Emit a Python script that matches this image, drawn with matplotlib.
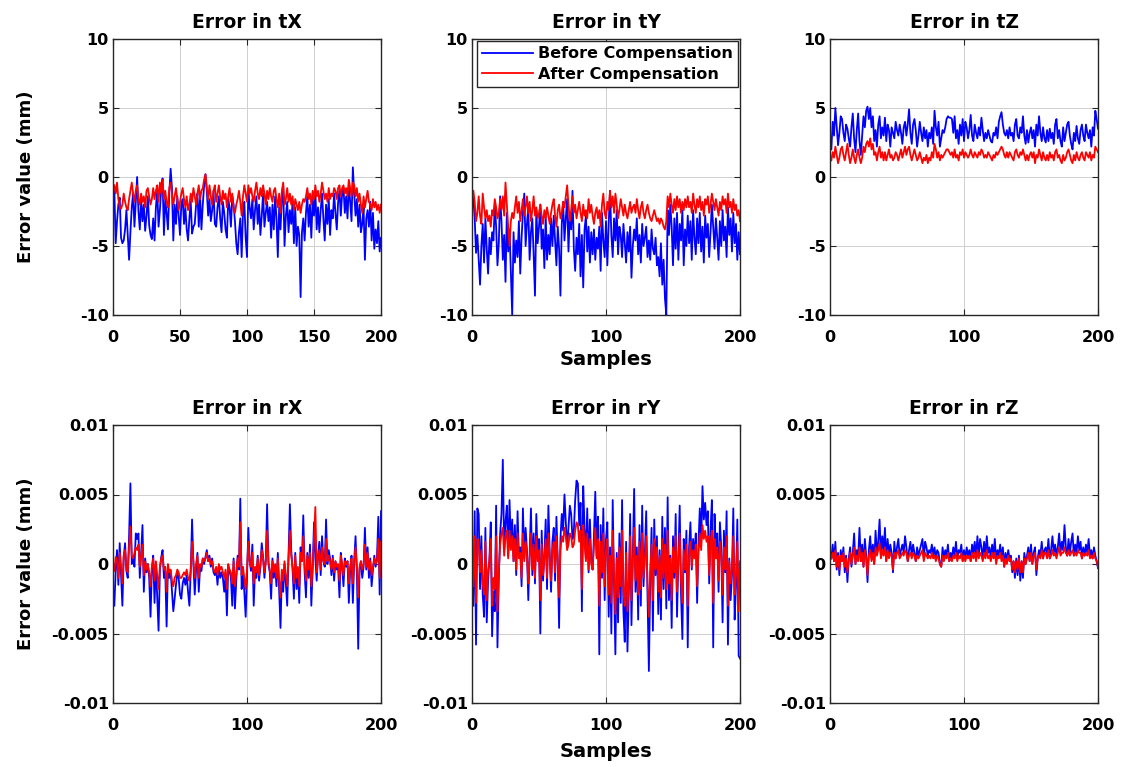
import matplotlib
matplotlib.use("Agg")
import matplotlib.pyplot as plt
import numpy as np

plt.rcParams["font.family"] = "DejaVu Sans"
plt.rcParams["font.weight"] = "bold"
plt.rcParams["axes.titleweight"] = "bold"
plt.rcParams["axes.labelweight"] = "bold"

samples = np.arange(1, 201)

# ---- translation errors (mm) ----
tx_before = [
    -1.0, -4.8, -3.2, -2.0, -1.5, -4.4, -4.8, -4.6, -3.8, -2.4, -4.2, -6.0, -4.0, -2.2, -1.2, -3.6, -1.8, 0.0, -2.5, -3.8,
    -1.6, -3.2, -2.0, -3.9, -2.8, -1.4, -3.5, -4.2, -4.5, -3.0, -4.6, -2.2, -1.0, -3.6, -2.4, -0.8, -0.1, -4.2, -1.6, -2.6,
    -3.8, -1.2, 0.6, -0.8, -4.6, -2.0, -3.4, -1.4, -2.8, -4.2, -2.0, -1.6, -3.4, -2.2, -3.8, -4.6, -3.0, -1.8, -4.1, -3.6,
    -3.4, -2.0, -1.2, -3.6, -1.4, -3.8, -2.0, -0.6, 0.2, -1.0, -2.8, -1.6, -3.2, -2.4, -1.0, -3.4, -3.6, -2.2, -1.4, -3.0,
    -4.0, -1.8, -2.6, -3.8, -4.4, -1.6, -2.2, -3.6, -1.4, -2.0, -3.2, -4.8, -5.6, -4.0, -3.0, -5.8, -2.6, -1.8, -4.4, -5.8,
    -1.0, -2.2, -3.0, -1.6, -3.8, -2.4, -1.4, -3.4, -2.0, -4.2, -2.8, -1.2, -3.6, -2.6, -1.8, -3.2, -2.2, -4.4, -2.0, -3.8,
    -1.4, -3.0, -5.8, -2.2, -3.8, -1.6, -0.6, -5.0, -2.8, -1.8, -4.0, -2.4, -3.4, -1.8, -4.8, -2.2, -5.0, -3.6, -4.2, -8.7,
    -4.0, -3.0, -4.6, -2.6, -1.4, -3.6, -2.0, -4.4, -1.6, -2.8, -1.0, -3.8, -2.2, -4.0, -2.4, -1.2, -3.0, -4.6, -2.0, -3.4,
    -1.6, -4.2, -2.4, -3.0, -1.2, -2.6, -3.8, -1.8, -1.0, -2.8, -1.2, -0.8, -2.6, -1.4, -3.0, -0.6, -1.8, -3.2, 0.7, -1.2,
    -2.8, -1.6, -3.6, -2.0, -4.0, -3.4, -2.2, -6.0, -3.0, -2.4, -3.6, -1.8, -4.6, -2.6, -5.2, -3.8, -4.8, -3.2, -5.4, -4.4,
]
tx_after = [
    -0.6, -1.2, -0.4, -1.6, -2.2, -2.3, -2.0, -1.2, -1.8, -2.2, -2.4, -1.6, -1.0, -0.4, -1.2, -1.8, -1.0, -0.6, -1.6, -2.0,
    -1.2, -1.8, -1.4, -2.2, -1.0, -0.8, -1.4, -2.0, -1.6, -0.8, -1.6, -1.0, -0.6, -1.8, -0.4, -1.2, -0.2, -1.6, -1.0, -1.8,
    -2.2, -0.8, -0.4, -1.2, -2.0, -1.4, -0.8, -1.6, -2.4, -1.8, -1.2, -0.8, -1.6, -2.2, -1.4, -2.4, -2.0, -1.2, -1.8, -0.8,
    -1.4, -2.0, -1.2, -0.6, -1.6, -1.0, -0.8, -0.2, 0.2, -0.8, -1.6, -0.6, -1.4, -2.0, -1.0, -0.6, -1.8, -1.2, -0.6, -1.4,
    -2.0, -1.0, -1.6, -1.2, -2.2, -1.4, -0.8, -1.8, -1.2, -2.4, -2.6, -2.0, -1.6, -1.0, -1.8, -2.8, -1.4, -0.6, -1.2, -1.8,
    -0.6, -1.2, -0.8, -1.4, -1.8, -1.0, -0.4, -1.2, -1.6, -0.8, -1.4, -0.6, -1.2, -2.0, -1.0, -1.6, -0.8, -1.4, -1.8, -1.0,
    -0.8, -1.6, -2.2, -1.2, -2.6, -1.0, -0.4, -2.0, -1.6, -0.8, -1.8, -1.2, -2.0, -1.4, -2.4, -1.6, -2.0, -2.4, -1.8, -2.6,
    -2.0, -1.6, -1.8, -1.4, -0.8, -1.6, -1.2, -2.0, -1.0, -1.6, -0.6, -1.4, -1.0, -1.8, -1.2, -0.4, -1.0, -1.6, -1.2, -1.8,
    -0.8, -1.6, -1.2, -1.4, -0.8, -1.0, -1.6, -0.8, -0.6, -1.4, -0.8, -0.6, -1.2, -0.8, -1.4, -0.2, -0.8, -1.4, -0.4, -0.6,
    -1.4, -0.8, -1.8, -1.2, -2.0, -2.6, -1.4, -2.2, -1.6, -1.0, -1.8, -2.0, -2.4, -1.6, -2.2, -1.8, -2.4, -2.0, -2.6, -2.0,
]
ty_before = [
    -1.5, -3.0, -5.5, -4.2, -6.0, -7.8, -5.0, -3.4, -6.2, -3.0, -5.2, -7.0, -4.4, -5.6, -4.0, -4.6, -2.0, -3.6, -6.4, -4.8,
    -1.4, -3.2, -6.0, -4.2, -7.6, -2.6, -5.4, -3.8, -6.8, -10.0, -4.0, -6.2, -4.6, -5.8, -3.2, -7.0, -4.4, -2.6, -1.2, -5.0,
    -3.4, -2.2, -6.0, -4.0, -3.0, -5.6, -8.6, -2.4, -4.8, -3.6, -2.0, -5.2, -3.8, -6.6, -2.8, -6.0, -4.2, -5.6, -3.0, -5.0,
    -2.8, -4.6, -6.4, -3.6, -5.2, -8.6, -3.4, -1.8, -4.6, -3.0, -1.6, -5.4, -2.6, -3.8, -1.0, -5.2, -6.8, -4.4, -5.6, -3.4,
    -7.2, -4.2, -8.0, -3.8, -2.8, -5.4, -3.6, -6.2, -4.0, -5.6, -3.8, -6.0, -4.4, -5.2, -3.6, -6.8, -2.6, -4.6, -5.8, -3.2,
    -6.4, -3.4, -1.0, -4.2, -5.8, -3.0, -4.6, -2.4, -5.6, -3.6, -4.2, -5.8, -3.4, -4.8, -6.2, -4.0, -5.4, -3.6, -7.3, -5.0,
    -3.8, -4.6, -3.0, -5.6, -4.2, -6.2, -3.4, -5.0, -4.4, -3.6, -5.8, -4.6, -6.0, -3.8, -5.2, -5.6, -4.4, -6.4, -5.8, -7.2,
    -4.8, -7.8, -6.0, -8.8, -10.0, -2.4, -4.2, -2.0, -3.6, -6.4, -3.0, -5.2, -2.6, -6.0, -3.4, -4.6, -2.4, -6.4, -3.8, -5.0,
    -2.8, -4.8, -3.2, -6.0, -2.4, -4.4, -5.6, -3.0, -4.8, -2.6, -5.4, -3.6, -6.2, -2.8, -4.4, -3.4, -5.8, -4.0, -2.0, -3.6,
    -5.2, -3.0, -4.4, -6.0, -3.2, -5.0, -2.4, -4.6, -3.6, -5.8, -2.2, -4.2, -3.0, -5.4, -2.6, -4.8, -3.4, -6.0, -4.0, -5.6,
]
ty_after = [
    -1.0, -1.8, -3.2, -2.6, -1.4, -2.8, -3.4, -1.2, -2.2, -3.0, -2.4, -3.2, -2.8, -3.6, -2.4, -2.8, -1.6, -2.2, -3.0, -2.6,
    -1.6, -2.4, -1.4, -2.8, -0.4, -2.0, -3.6, -5.0, -3.2, -2.6, -3.0, -2.2, -1.4, -2.6, -1.8, -3.2, -2.4, -1.6, -2.8, -2.2,
    -1.4, -2.6, -1.8, -3.2, -2.4, -1.4, -2.8, -2.2, -3.0, -2.6, -2.0, -2.8, -3.4, -2.4, -3.0, -2.2, -2.8, -3.4, -2.6, -2.0,
    -1.6, -2.8, -3.6, -2.4, -2.0, -3.0, -2.6, -1.8, -2.2, -1.4, -0.6, -2.0, -3.2, -2.4, -1.4, -2.6, -2.0, -3.0, -2.4, -1.8,
    -2.6, -3.2, -2.0, -2.8, -2.4, -3.0, -1.6, -2.6, -2.0, -2.8, -3.4, -2.6, -2.2, -3.0, -2.4, -3.6, -2.0, -1.2, -2.6, -3.0,
    -1.8, -2.4, -1.0, -2.2, -1.4, -2.6, -1.2, -2.0, -3.0, -2.4, -1.6, -2.2, -2.8, -2.0, -2.6, -3.0, -2.4, -1.8, -2.6, -2.2,
    -2.0, -2.6, -1.6, -2.4, -3.0, -2.2, -1.8, -2.6, -3.0, -2.4, -2.0, -2.6, -3.0, -3.2, -2.8, -2.4, -2.8, -3.2, -3.0, -3.4,
    -3.0, -3.2, -3.6, -3.8, -3.2, -1.4, -2.2, -1.2, -2.0, -2.6, -1.6, -2.4, -1.4, -2.2, -1.6, -2.6, -1.8, -2.4, -1.6, -2.2,
    -1.4, -2.2, -1.8, -2.6, -1.2, -2.0, -2.6, -1.6, -2.2, -1.4, -2.4, -1.8, -2.8, -1.6, -2.0, -1.4, -2.6, -2.0, -1.2, -1.8,
    -2.4, -1.6, -2.2, -2.8, -1.8, -2.4, -1.4, -2.0, -1.6, -2.6, -1.2, -2.2, -1.8, -2.6, -1.6, -2.4, -2.0, -2.8, -2.4, -3.2,
]
tz_before = [
    2.0, 4.0, 3.0, 5.0, 3.6, 2.3, 3.2, 4.4, 4.2, 3.2, 2.6, 3.8, 3.5, 2.8, 2.2, 3.6, 4.6, 2.8, 1.8, 3.4,
    4.6, 2.6, 1.6, 3.0, 4.4, 3.6, 4.8, 5.1, 4.2, 5.0, 3.6, 4.4, 2.6, 3.4, 2.2, 3.8, 4.4, 2.8, 3.6, 3.0,
    4.3, 2.6, 3.8, 3.4, 2.2, 3.6, 3.2, 2.8, 4.0, 3.4, 3.0, 3.8, 3.2, 2.4, 3.6, 4.0, 3.0, 3.8, 4.9, 3.2,
    2.4, 3.8, 4.2, 3.4, 2.2, 3.0, 4.0, 3.2, 2.6, 3.6, 2.8, 3.4, 2.2, 3.2, 2.8, 3.6, 2.4, 4.8, 3.6, 3.0,
    4.0, 2.2, 2.8, 3.4, 3.2, 3.6, 4.2, 4.4, 4.3, 4.3, 4.2, 3.2, 4.4, 2.8, 3.4, 2.4, 3.8, 3.0, 4.2, 2.6,
    4.0, 3.6, 2.8, 3.4, 4.5, 3.0, 2.6, 3.8, 3.2, 2.8, 3.6, 3.0, 4.3, 3.4, 2.6, 3.2, 2.8, 3.4, 3.0, 2.6,
    2.5, 3.2, 3.0, 3.6, 2.8, 4.0, 4.4, 4.7, 3.8, 3.2, 3.0, 3.4, 2.8, 3.6, 3.0, 3.2, 2.6, 3.8, 4.2, 3.0,
    2.8, 3.6, 3.2, 4.4, 3.0, 2.4, 3.4, 2.5, 3.2, 3.6, 2.8, 3.4, 2.2, 3.8, 3.0, 4.4, 3.2, 2.6, 3.6, 2.8,
    2.5, 3.4, 2.6, 3.5, 2.8, 3.2, 2.4, 3.8, 4.2, 2.8, 3.4, 2.6, 2.2, 3.6, 2.6, 3.2, 3.8, 4.0, 3.0, 2.4,
    2.0, 3.2, 2.6, 3.7, 2.8, 2.4, 3.4, 3.8, 3.0, 2.6, 3.8, 3.2, 2.8, 3.4, 2.2, 3.6, 3.0, 4.8, 4.2, 3.5,
]
tz_after = [
    1.2, 1.8, 1.4, 2.2, 1.6, 1.0, 1.4, 2.0, 2.2, 1.6, 1.2, 1.8, 2.4, 1.6, 1.0, 1.4, 2.0, 1.4, 1.0, 1.6,
    2.0, 1.4, 1.0, 1.4, 2.2, 1.8, 2.4, 2.6, 2.2, 2.8, 2.0, 2.4, 1.6, 1.8, 1.2, 1.8, 2.2, 1.4, 1.8, 1.2,
    1.8, 1.2, 1.6, 2.0, 1.4, 1.6, 1.2, 1.4, 1.8, 1.6, 1.2, 1.6, 2.0, 1.4, 1.8, 2.2, 1.6, 2.0, 2.2, 1.6,
    1.2, 1.6, 2.0, 1.6, 1.2, 1.4, 1.8, 1.4, 1.0, 1.4, 1.2, 1.6, 1.0, 1.4, 1.2, 1.8, 1.4, 2.4, 2.0, 1.4,
    1.8, 1.2, 1.6, 1.4, 1.6, 1.8, 2.0, 2.0, 1.8, 1.6, 1.8, 1.4, 2.0, 1.4, 1.6, 1.2, 1.8, 1.6, 2.0, 1.4,
    1.8, 1.6, 1.4, 1.6, 2.0, 1.6, 1.4, 1.8, 1.6, 1.4, 1.8, 1.6, 2.0, 1.8, 1.4, 1.6, 1.4, 1.8, 1.6, 1.4,
    1.2, 1.6, 1.4, 1.8, 1.6, 1.8, 2.0, 2.2, 2.0, 1.6, 1.4, 1.8, 1.4, 1.8, 1.6, 1.4, 1.2, 1.8, 2.0, 1.6,
    1.4, 1.8, 1.6, 2.0, 1.6, 1.2, 1.6, 1.2, 1.6, 1.8, 1.4, 1.8, 1.0, 1.6, 1.4, 2.0, 1.6, 1.2, 1.8, 1.4,
    1.2, 1.6, 1.2, 1.8, 1.4, 1.6, 1.2, 1.8, 2.0, 1.4, 1.6, 1.2, 1.0, 1.6, 1.2, 1.4, 1.8, 2.0, 1.6, 1.2,
    1.0, 1.6, 1.2, 1.8, 1.4, 1.2, 1.6, 1.8, 1.4, 1.2, 1.8, 1.6, 1.4, 1.8, 1.2, 1.6, 1.4, 2.2, 2.0, 1.8,
]

# ---- rotation errors, written in units of 1e-3 ----
rx_before = [
    -3.0, -0.5, 1.0, -1.5, 1.5, -0.8, -3.0, 0.5, 1.5, -0.5, -1.0, 2.0, 5.8, 0.0, 0.5, -0.2, 2.2, 1.8, 2.2, -1.0,
    0.8, 2.8, -2.0, 0.4, -0.6, 0.0, -1.0, -3.8, -0.5, 0.6, -2.8, 0.0, -2.5, -4.8, -0.4, 0.5, 1.0, -1.0, -0.5, -4.5,
    -0.2, -1.0, -0.5, -2.0, -3.4, -2.5, -1.5, -0.6, -1.0, -2.2, -2.5, -1.4, -1.0, -1.5, -0.8, -2.0, -3.0, -0.6, 3.2, 0.0,
    -2.2, -0.4, 0.8, -2.0, -0.2, -0.5, 0.4, 0.0, 0.5, 1.0, 0.2, 0.6, -0.2, 0.4, -0.6, -0.8, -0.4, -1.5, -0.2, -1.0,
    -0.6, -1.0, -2.0, -0.8, -3.7, -0.2, -0.5, -1.0, -3.0, 0.4, -3.2, -1.2, 0.6, -0.4, 4.7, -1.8, -0.6, -2.0, -3.8, -1.0,
    2.6, 0.2, -0.5, 1.4, -3.0, -0.4, -1.0, 0.6, -1.2, -0.2, 1.5, 0.5, -1.0, 0.2, 4.3, 0.0, -0.6, -2.5, 0.4, -1.0,
    -0.2, -1.6, 0.8, -2.0, -4.6, -0.8, -2.0, 0.0, -1.4, -3.0, 0.6, 4.3, 1.0, -0.4, -2.5, 0.8, -1.8, -0.4, -2.8, 1.2,
    0.2, 3.5, -0.6, -2.4, 0.8, -1.0, 1.4, -3.0, -0.4, 3.0, 0.4, -1.2, 0.6, 1.6, -0.8, 2.0, 0.2, -0.2, 3.2, 0.0,
    1.0, 0.4, -0.8, 0.6, -1.2, 0.2, -0.4, -0.2, -2.4, 0.8, -0.2, -1.6, 0.4, -0.2, 0.2, -2.8, -0.4, 0.6, -2.8, 0.2,
    2.0, -0.6, -6.1, -0.4, 0.2, -1.0, -0.2, 2.6, -0.4, 1.2, -1.0, 0.4, -1.6, -0.4, 0.6, -0.2, 0.4, 3.4, -2.2, 3.8,
]
rx_after = [
    -0.5, 0.5, 0.2, -1.0, 0.8, -0.2, -1.4, 0.6, 1.0, -0.4, -0.6, 1.2, 2.7, 0.6, 0.4, 0.8, 1.2, 1.0, 1.4, -0.2,
    0.6, 1.4, -0.8, 0.2, -0.4, 0.0, -0.6, -1.6, -0.2, 0.4, -1.2, 0.2, -0.8, -1.8, -0.2, 0.4, 0.6, -0.4, -0.2, -2.0,
    0.0, -0.6, -0.4, -1.2, -1.6, -1.0, -0.8, -0.4, -0.6, -1.0, -1.0, -0.8, -0.6, -0.8, -0.4, -1.0, -1.2, -0.4, 1.6, 0.2,
    -1.0, 0.0, 0.6, -1.0, 0.0, -0.2, 0.4, 0.2, 0.4, 0.8, 0.2, 0.4, 0.0, 0.2, -0.4, -0.6, -0.2, -0.8, 0.0, -0.4,
    -0.2, -0.6, -1.0, -0.4, -1.8, 0.0, -0.4, -0.6, -1.4, 0.2, -1.6, -0.6, 0.4, -0.2, 3.0, -0.8, -0.2, -1.0, -1.8, -0.4,
    1.6, 0.2, -0.2, 0.8, -1.4, -0.2, -0.6, 0.4, -0.8, 0.0, 1.0, 0.4, -0.6, 0.2, 2.4, 0.2, -0.4, -1.4, 0.2, -0.6,
    0.0, -1.0, 0.4, -1.2, -2.4, -0.4, -1.2, 0.2, -0.8, -1.6, 0.4, 2.4, 0.6, -0.2, -1.4, 0.6, -1.0, -0.2, -1.6, 0.8,
    0.2, 2.0, -0.2, -1.2, 0.6, -0.4, 0.8, -1.6, -0.2, 1.8, 4.1, -0.6, 0.4, 1.0, -0.4, 1.2, 0.2, 0.0, 1.8, 0.2,
    0.6, 0.2, -0.4, 0.4, -0.6, 0.2, -0.2, 0.0, -1.2, 0.6, 0.0, -0.8, 0.2, 0.0, 0.2, -1.4, -0.2, 0.4, -1.4, 0.2,
    1.2, -0.2, -2.4, -0.2, 0.2, -0.4, 0.0, 1.4, -0.2, 0.8, -0.4, 0.2, -0.8, -0.2, 0.4, 0.0, 0.2, 1.8, -1.0, 1.6,
]
ry_before = [
    -3.0, 3.8, -5.8, 4.0, 3.6, -1.8, 2.0, -2.2, -3.8, 2.6, -4.2, -1.2, 0.4, 3.0, -5.2, -2.0, -3.4, 4.2, -6.0, -1.0,
    2.2, 3.6, 7.5, 1.0, 3.0, 4.2, 0.6, 4.6, 1.4, 3.2, 0.2, 2.8, -0.8, 3.8, 0.6, 1.2, -1.6, 4.0, 0.4, 2.6,
    1.0, -2.6, 0.8, 4.0, -0.8, 2.2, -1.4, 3.6, 0.4, 1.8, -5.0, 2.4, -1.2, 0.6, 3.2, -1.8, 4.2, 0.8, -2.0, 1.6,
    2.6, -1.2, 3.4, 0.2, -4.6, 1.8, 3.6, 2.4, 5.0, 3.0, 1.2, 2.6, 4.2, 3.6, 1.8, 2.4, 4.6, 6.0, 5.8, 2.8,
    4.4, -3.4, 5.6, 2.6, 0.4, 4.0, -0.6, 3.2, 0.2, -0.4, 2.0, 5.2, 0.6, 3.4, -6.5, 2.8, -1.0, 4.0, -2.6, 1.8,
    3.0, -3.8, 1.2, -5.0, 4.6, -1.4, -6.5, 0.8, -4.2, 2.2, -2.8, 4.6, -3.4, -5.6, 1.6, -6.3, -2.2, 3.6, -4.4, 0.4,
    5.4, -2.0, 1.2, -4.0, 2.8, -3.0, 4.2, -1.6, 0.8, 3.8, -2.4, -7.7, -1.2, 2.6, -4.8, 3.2, -0.8, 2.0, -3.6, 1.0,
    -4.0, 3.4, -1.8, 2.6, -3.2, 4.8, -2.6, 0.6, -4.6, 2.0, -1.0, 3.6, -3.8, 0.4, 4.2, -2.2, -5.4, 1.8, -0.6, 2.4,
    -6.0, 1.2, 3.0, -0.4, 1.8, 0.6, 2.2, -2.8, 1.4, 4.0, 1.6, 5.6, 3.2, 4.4, 2.8, 3.8, -1.4, 2.4, 4.6, -6.0,
    3.6, 0.8, 2.2, -2.0, 3.0, 1.2, -4.2, 2.4, -0.6, 3.8, -5.8, 0.4, -2.6, -0.8, 4.0, -4.0, -1.6, 3.2, -6.6, -6.8,
]
ry_after = [
    -1.6, 2.0, -2.8, 1.8, 1.6, -0.6, 1.0, -1.4, -2.2, 1.6, -2.6, -0.4, 0.2, 1.8, -3.0, -1.0, -1.8, 2.0, -3.4, -0.6,
    1.4, 2.2, 2.6, 0.6, 2.0, 2.4, 0.4, 2.4, 1.0, 2.0, 0.2, 1.8, -0.4, 2.2, 0.4, 0.8, -1.0, 2.2, 0.2, 1.6,
    0.6, -1.4, 0.4, 2.2, -0.4, 1.4, -1.0, 2.0, 0.2, 1.0, -2.6, 1.4, -0.8, 0.4, 1.8, -1.0, 2.2, 0.4, -1.2, 1.0,
    1.6, -0.6, 2.0, 0.2, -2.4, 1.0, 2.0, 1.6, 2.6, 2.0, 1.0, 1.4, 2.2, 2.0, 1.2, 1.4, 2.4, 3.0, 2.8, 1.6,
    2.4, -1.8, 2.8, 1.4, 0.2, 2.2, -0.4, 1.8, 0.0, -0.4, 1.2, 2.6, 0.4, 1.8, -3.0, 1.6, -0.6, 2.2, -1.6, 1.0,
    1.8, -2.2, 0.6, -2.8, 2.4, -0.8, -3.6, 0.4, -2.4, 1.2, -1.6, 2.4, -2.0, -3.0, 0.8, -3.4, -1.2, 2.0, -2.6, 0.2,
    2.6, -1.2, 0.6, -2.2, 1.6, -1.8, 2.2, -1.0, 0.4, 2.0, -1.4, -3.8, -0.6, 1.4, -2.6, 1.8, -0.4, 1.2, -2.0, 0.6,
    -2.4, 1.8, -1.0, 1.4, -1.8, 2.4, -1.4, 0.4, -2.6, 1.2, -0.6, 2.0, -2.0, 0.2, 2.2, -1.2, -2.8, 1.0, -0.4, 1.4,
    -3.0, 0.6, 1.6, -0.2, 1.0, 0.4, 1.4, -1.6, 0.8, 2.2, 1.0, 2.8, 1.8, 2.4, 1.6, 2.0, -0.8, 1.4, 2.4, -2.8,
    1.8, 0.4, 1.2, -1.2, 1.6, 0.6, -2.2, 1.2, -0.4, 2.0, -3.0, 0.2, -1.4, -0.4, 2.0, -2.2, -0.8, 1.6, -3.4, 0.2,
]
rz_before = [
    0.4, 1.4, 0.2, 1.6, -0.4, 0.8, -0.8, 1.0, 0.2, 1.2, -0.6, 0.6, -1.3, 0.4, 1.2, -0.2, 0.8, 2.2, 0.0, 1.0,
    0.4, 2.6, 0.2, 1.4, -0.2, 1.8, 0.6, -1.3, 1.0, 2.0, 0.4, 1.4, 0.0, 2.4, 0.8, 1.6, 3.2, 0.6, 2.0, 1.0,
    2.6, 0.2, 1.8, 0.6, 1.4, 0.8, -0.6, 1.6, 0.4, 1.2, 1.8, 0.6, 1.0, 1.4, 0.8, 2.0, 1.2, 0.2, 1.0, 1.6,
    0.6, 1.4, 0.8, 0.2, 1.2, 0.6, 1.0, 1.4, 1.8, 0.4, 1.6, 1.2, 0.6, 1.0, 0.8, 1.4, 0.6, 1.2, 0.4, 1.0,
    0.8, 0.0, -0.2, 1.2, 0.4, 1.0, 0.6, 1.4, 0.2, 0.8, 0.4, 1.2, 0.6, 1.6, 0.4, 1.0, 0.8, 1.4, 0.2, 1.0,
    0.4, 1.2, 0.6, 1.0, 0.2, 1.4, 0.8, 1.6, 0.4, 2.0, 0.6, 1.8, 1.2, 0.4, 1.6, 0.6, 2.0, 0.8, 1.2, 0.4,
    1.4, 0.6, 1.8, 0.2, 1.0, 0.6, 1.4, 0.4, 1.2, -0.2, 0.8, 0.2, 1.0, 0.4, 0.6, -0.6, 0.2, -1.0, 0.4, -0.8,
    0.6, -1.2, 0.2, -1.0, 0.8, 0.0, 0.6, 1.2, 0.2, 1.4, 0.0, 0.8, 1.2, -0.8, 0.4, 1.0, 0.6, 1.6, 0.4, 1.0,
    1.2, 0.6, 1.8, 0.4, 1.0, 2.0, 0.8, 1.4, 0.6, 1.2, 2.2, 0.8, 1.6, 1.0, 2.8, 1.2, 0.6, 1.8, 0.8, 1.6,
    2.2, 0.6, 1.4, 0.8, 2.0, 1.0, 1.6, 0.4, 1.2, 0.6, 1.4, 0.8, 1.8, 0.6, 1.0, 0.4, 1.2, 0.6, 0.2, -0.3,
]
rz_after = [
    0.4, 0.8, 0.2, 1.0, -0.2, 0.6, -0.4, 0.6, 0.2, 0.8, -0.2, 0.4, -0.6, 0.2, 0.8, 0.0, 0.6, 1.2, 0.0, 0.6,
    0.2, 1.2, 0.2, 0.8, -0.2, 1.0, 0.4, -0.8, 0.6, 1.0, 0.2, 0.8, 0.0, 1.2, 0.6, 1.0, 1.5, 0.4, 1.0, 0.6,
    1.2, 0.2, 1.0, 0.4, 0.8, 0.6, -0.4, 0.8, 0.4, 0.8, 1.0, 0.4, 0.6, 0.8, 0.6, 1.0, 0.8, 0.2, 0.6, 0.8,
    0.4, 0.8, 0.6, 0.2, 0.6, 0.4, 0.6, 0.8, 1.0, 0.2, 0.8, 0.6, 0.4, 0.6, 0.4, 0.8, 0.4, 0.6, 0.2, 0.6,
    0.4, 0.0, -0.2, 0.6, 0.2, 0.6, 0.4, 0.8, 0.2, 0.4, 0.2, 0.6, 0.4, 0.8, 0.2, 0.6, 0.4, 0.8, 0.2, 0.6,
    0.2, 0.6, 0.4, 0.6, 0.2, 0.8, 0.4, 0.8, 0.2, 1.0, 0.4, 0.8, 0.6, 0.2, 0.8, 0.4, 1.0, 0.4, 0.6, 0.2,
    0.8, 0.4, 0.8, 0.0, 0.6, 0.4, 0.8, 0.2, 0.6, -0.2, 0.4, 0.0, 0.6, 0.2, 0.4, -0.4, 0.2, -0.6, 0.2, -0.4,
    0.4, -0.6, 0.2, -0.6, 0.4, 0.0, 0.4, 0.8, 0.2, 0.8, 0.0, 0.6, 0.8, -0.4, 0.4, 0.6, 0.4, 1.0, 0.4, 0.8,
    0.8, 0.4, 1.0, 0.4, 0.6, 1.0, 0.6, 0.8, 0.4, 0.8, 1.2, 0.6, 0.8, 0.8, 1.2, 0.8, 0.6, 1.0, 0.6, 0.8,
    1.0, 0.6, 0.8, 0.6, 1.0, 0.8, 0.8, 0.4, 0.8, 0.6, 0.8, 0.6, 1.0, 0.4, 0.6, 0.4, 0.8, 0.4, 0.2, -0.2,
]

titles = ["Error in tX", "Error in tY", "Error in tZ", "Error in rX", "Error in rY", "Error in rZ"]
before = [tx_before, ty_before, tz_before,
          np.array(rx_before) * 1e-3, np.array(ry_before) * 1e-3, np.array(rz_before) * 1e-3]
after = [tx_after, ty_after, tz_after,
         np.array(rx_after) * 1e-3, np.array(ry_after) * 1e-3, np.array(rz_after) * 1e-3]

t_yticks = [-10, -5, 0, 5, 10]
t_ylabels = ["-10", "-5", "0", "5", "10"]
r_yticks = [-0.01, -0.005, 0, 0.005, 0.01]
r_ylabels = ["-0.01", "-0.005", "0", "0.005", "0.01"]

fig = plt.figure(figsize=(11.21, 7.67), dpi=100)
lefts = [113 / 1121, 472 / 1121, 830 / 1121]
w = 268 / 1121
bottoms = [1 - 315 / 767, 1 - 703 / 767]
heights = [276 / 767, 278 / 767]

for i in range(6):
    row, col = divmod(i, 3)
    ax = fig.add_axes([lefts[col], bottoms[row], w, heights[row]])
    ax.plot(samples, before[i], color="#0000ff", lw=1.3, label="Before Compensation")
    ax.plot(samples, after[i], color="#ff0000", lw=1.3, label="After Compensation")
    ax.set_xlim(0, 200)
    if i == 0:
        ax.set_xticks([0, 50, 100, 150, 200])
    else:
        ax.set_xticks([0, 100, 200])
    if row == 0:
        ax.set_ylim(-10, 10)
        ax.set_yticks(t_yticks)
        ax.set_yticklabels(t_ylabels)
    else:
        ax.set_ylim(-0.01, 0.01)
        ax.set_yticks(r_yticks)
        ax.set_yticklabels(r_ylabels)
    ax.grid(True, color="#cfcfcf", lw=0.7)
    ax.set_axisbelow(True)
    for s in ax.spines.values():
        s.set_color("#262626")
        s.set_linewidth(1.0)
    ax.tick_params(direction="in", top=True, right=True, length=4, width=0.8,
                   color="#262626", labelsize=11.5)
    ax.tick_params(axis="x", pad=11)
    ax.tick_params(axis="y", pad=3)
    ax.set_title(titles[i], fontsize=13.5, pad=8)
    if col == 0:
        ax.set_ylabel("Error value (mm)", fontsize=13)
        ax.yaxis.set_label_coords(-0.29, 0.5)
    if col == 1:
        ax.set_xlabel("Samples", fontsize=14)
        ax.xaxis.set_label_coords(0.5, -0.125 if row == 0 else -0.142)
    if i == 1:
        ax.legend(loc="upper right", fontsize=11.5, handlelength=3.2, handletextpad=0.3,
                  labelspacing=0.35, borderpad=0.3, borderaxespad=0.15,
                  fancybox=False, framealpha=1, edgecolor="#262626")

fig.savefig("out.png", dpi=100)
